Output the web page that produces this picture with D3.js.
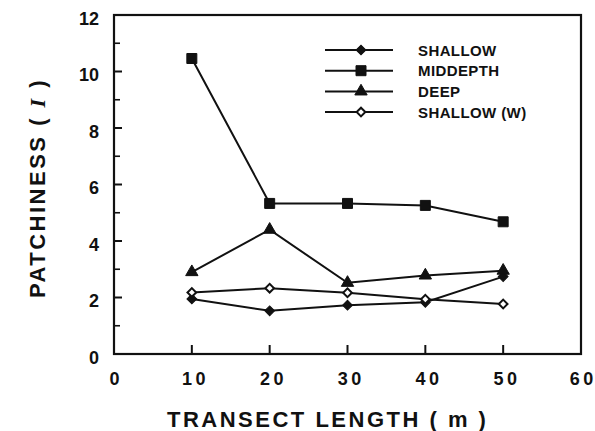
<!DOCTYPE html>
<html>
<head>
<meta charset="utf-8">
<script src="https://cdn.jsdelivr.net/npm/d3@7"></script>
<style>
  body { margin: 0; background: #fff; }
  svg text { font-family: "Liberation Sans", Arial, sans-serif; font-weight: bold; fill: #111; }
</style>
</head>
<body>
<div class="chart"></div>
<script>
// transect length (m) and patchiness index per depth
const lengths = [10, 20, 30, 40, 50];
const shallow   = [1.95, 1.53, 1.73, 1.83, 2.74];
const middepth  = [10.46, 5.33, 5.33, 5.26, 4.68];
const deep      = [2.90, 4.40, 2.52, 2.78, 2.95];
const shallowW  = [2.18, 2.33, 2.17, 1.94, 1.77];
const seriesNames = ["SHALLOW", "MIDDEPTH", "DEEP", "SHALLOW (W)"];
const xTicks = [0, 10, 20, 30, 40, 50, 60];
const yTicks = [0, 2, 4, 6, 8, 10, 12];

const width = 595, height = 431;
const x = d3.scaleLinear().domain([0, 60]).range([114, 581]);
const y = d3.scaleLinear().domain([0, 12]).range([354, 15]);

const svg = d3.select(".chart").append("svg")
    .attr("width", width)
    .attr("height", height);

// marker shapes (squares get rotated 45 to make the diamonds)
const sym = {
    circle: d3.symbol().type(d3.symbolSquare).size(48),
    square: d3.symbol().type(d3.symbolSquare).size(100),
    triangle: d3.symbol().type(d3.symbolTriangle).size(66),
    diamond: d3.symbol().type(d3.symbolSquare).size(38)
};

const series = [
    {name: seriesNames[0], values: shallow,  shape: "circle",   rot: 45, fill: "#111"},
    {name: seriesNames[1], values: middepth, shape: "square",   rot: 0,  fill: "#111"},
    {name: seriesNames[2], values: deep,     shape: "triangle", rot: 0,  fill: "#111"},
    {name: seriesNames[3], values: shallowW, shape: "diamond",  rot: 45, fill: "#fff"}
];

// frame
svg.append("rect")
    .attr("x", x(0)).attr("y", y(12))
    .attr("width", x(60) - x(0)).attr("height", y(0) - y(12))
    .attr("fill", "none").attr("stroke", "#111").attr("stroke-width", 2.2);

// y ticks, pointing inward
const yMinor = d3.range(1, 12, 2);
svg.append("g").selectAll("line")
    .data(yTicks.slice(1, -1)).enter().append("line")
    .attr("x1", x(0)).attr("x2", x(0) + 8)
    .attr("y1", d => y(d)).attr("y2", d => y(d))
    .attr("stroke", "#111").attr("stroke-width", 2);
svg.append("g").selectAll("line")
    .data(yMinor).enter().append("line")
    .attr("x1", x(0)).attr("x2", x(0) + 6)
    .attr("y1", d => y(d)).attr("y2", d => y(d))
    .attr("stroke", "#111").attr("stroke-width", 1.6);

svg.append("g").selectAll("text")
    .data(yTicks).enter().append("text")
    .attr("x", 99)
    .attr("y", d => y(d) + 9.5)
    .attr("text-anchor", "end")
    .style("font-size", "18px")
    .text(d => d);

// x ticks
svg.append("g").selectAll("line")
    .data(xTicks.slice(1, -1)).enter().append("line")
    .attr("x1", d => x(d)).attr("x2", d => x(d))
    .attr("y1", y(0)).attr("y2", y(0) - 9)
    .attr("stroke", "#111").attr("stroke-width", 2);

// spaced-out digits: second digit pushed right with dx instead of letter-spacing
const xLabels = svg.append("g").selectAll("text")
    .data(xTicks).enter().append("text")
    .attr("x", d => x(d) + (d === 60 ? 0.5 : d >= 10 ? 2 : 0.5))
    .attr("y", 385)
    .attr("text-anchor", "middle")
    .style("font-size", "18px");
xLabels.selectAll("tspan")
    .data(d => String(d).split("")).enter().append("tspan")
    .attr("dx", (c, i) => i > 0 ? 3.5 : 0)
    .text(c => c);

// axis titles
svg.append("text")
    .attr("x", 167).attr("y", 427)
    .style("font-size", "22px")
    .style("letter-spacing", "2.5px")
    .text("TRANSECT LENGTH ( m )");

const yt = svg.append("text")
    .attr("transform", "translate(45,298) rotate(-90)")
    .style("font-size", "22px")
    .style("letter-spacing", "2.5px");
yt.append("tspan").text("PATCHINESS ( ");
yt.append("tspan")
    .style("font-family", "'Liberation Serif', 'Times New Roman', serif")
    .style("font-style", "italic")
    .text("I");
yt.append("tspan").text(" )");

// lines and markers
const line = d3.line()
    .x((d, i) => x(lengths[i]))
    .y(d => y(d));

series.forEach(s => {
    svg.append("path")
        .datum(s.values)
        .attr("d", line)
        .attr("fill", "none")
        .attr("stroke", "#111")
        .attr("stroke-width", 2);
});
series.forEach(s => {
    svg.append("g").selectAll("path")
        .data(s.values).enter().append("path")
        .attr("d", sym[s.shape])
        .attr("transform", (d, i) => `translate(${x(lengths[i])},${y(d)}) rotate(${s.rot})`)
        .attr("fill", s.fill)
        .attr("stroke", "#111")
        .attr("stroke-width", s.shape === "diamond" ? 2 : 1);
});

// legend
const legend = svg.append("g").selectAll("g")
    .data(series).enter().append("g")
    .attr("transform", (d, i) => `translate(0,${50 + i * 20.7})`);
legend.append("line")
    .attr("x1", 325).attr("x2", 393)
    .attr("stroke", "#111").attr("stroke-width", 2);
legend.append("path")
    .attr("d", d => sym[d.shape]())
    .attr("transform", d => `translate(361,0) rotate(${d.rot})`)
    .attr("fill", d => d.fill)
    .attr("stroke", "#111")
    .attr("stroke-width", d => d.shape === "diamond" ? 2 : 1);
legend.append("text")
    .attr("x", 418).attr("y", 5.5)
    .style("font-size", "15px")
    .style("letter-spacing", "0.4px")
    .text(d => d.name);
</script>
</body>
</html>
